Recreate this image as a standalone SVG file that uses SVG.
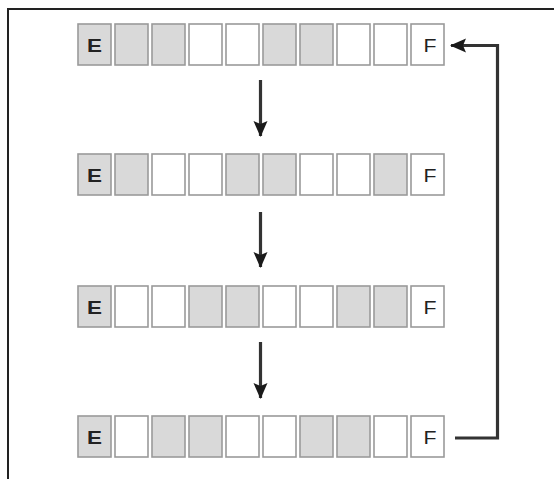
<svg xmlns="http://www.w3.org/2000/svg" width="554" height="479" viewBox="0 0 554 479">
<style>
.c{stroke:#9a9a9a;stroke-width:1.6}
.g{fill:#d9d9d9}
.w{fill:#ffffff}
.t{font-family:"Liberation Sans",Arial,sans-serif;font-size:18px;fill:#222;text-anchor:middle}
.b{font-weight:bold}
.ln{fill:none;stroke:#333;stroke-width:3.2}
</style>
<defs>
<marker id="ah" markerWidth="16" markerHeight="16" viewBox="0 0 16 16" refX="15" refY="8" orient="auto" markerUnits="userSpaceOnUse">
<path d="M0,1 L16,8 L0,15 L3,8 Z" fill="#1a1a1a"/>
</marker>
</defs>
<rect width="554" height="479" fill="#fff"/>
<path d="M8,479 V9 H554" fill="none" stroke="#222" stroke-width="2"/>
<g id="row1">
<rect class="c g" x="78" y="24" width="33" height="41"/>
<rect class="c g" x="115" y="24" width="33" height="41"/>
<rect class="c g" x="152" y="24" width="33" height="41"/>
<rect class="c w" x="189" y="24" width="33" height="41"/>
<rect class="c w" x="226" y="24" width="33" height="41"/>
<rect class="c g" x="263" y="24" width="33" height="41"/>
<rect class="c g" x="300" y="24" width="33" height="41"/>
<rect class="c w" x="337" y="24" width="33" height="41"/>
<rect class="c w" x="374" y="24" width="33" height="41"/>
<rect class="c w" x="411" y="24" width="33" height="41"/>
<text class="t b" x="94.5" y="52" textLength="15" lengthAdjust="spacingAndGlyphs">E</text>
<text class="t" x="430" y="52" textLength="13" lengthAdjust="spacingAndGlyphs">F</text>
</g>
<g id="row2">
<rect class="c g" x="78" y="154" width="33" height="41"/>
<rect class="c g" x="115" y="154" width="33" height="41"/>
<rect class="c w" x="152" y="154" width="33" height="41"/>
<rect class="c w" x="189" y="154" width="33" height="41"/>
<rect class="c g" x="226" y="154" width="33" height="41"/>
<rect class="c g" x="263" y="154" width="33" height="41"/>
<rect class="c w" x="300" y="154" width="33" height="41"/>
<rect class="c w" x="337" y="154" width="33" height="41"/>
<rect class="c g" x="374" y="154" width="33" height="41"/>
<rect class="c w" x="411" y="154" width="33" height="41"/>
<text class="t b" x="94.5" y="182" textLength="15" lengthAdjust="spacingAndGlyphs">E</text>
<text class="t" x="430" y="182" textLength="13" lengthAdjust="spacingAndGlyphs">F</text>
</g>
<g id="row3">
<rect class="c g" x="78" y="286" width="33" height="41"/>
<rect class="c w" x="115" y="286" width="33" height="41"/>
<rect class="c w" x="152" y="286" width="33" height="41"/>
<rect class="c g" x="189" y="286" width="33" height="41"/>
<rect class="c g" x="226" y="286" width="33" height="41"/>
<rect class="c w" x="263" y="286" width="33" height="41"/>
<rect class="c w" x="300" y="286" width="33" height="41"/>
<rect class="c g" x="337" y="286" width="33" height="41"/>
<rect class="c g" x="374" y="286" width="33" height="41"/>
<rect class="c w" x="411" y="286" width="33" height="41"/>
<text class="t b" x="94.5" y="314" textLength="15" lengthAdjust="spacingAndGlyphs">E</text>
<text class="t" x="430" y="314" textLength="13" lengthAdjust="spacingAndGlyphs">F</text>
</g>
<g id="row4">
<rect class="c g" x="78" y="416" width="33" height="41"/>
<rect class="c w" x="115" y="416" width="33" height="41"/>
<rect class="c g" x="152" y="416" width="33" height="41"/>
<rect class="c g" x="189" y="416" width="33" height="41"/>
<rect class="c w" x="226" y="416" width="33" height="41"/>
<rect class="c w" x="263" y="416" width="33" height="41"/>
<rect class="c g" x="300" y="416" width="33" height="41"/>
<rect class="c g" x="337" y="416" width="33" height="41"/>
<rect class="c w" x="374" y="416" width="33" height="41"/>
<rect class="c w" x="411" y="416" width="33" height="41"/>
<text class="t b" x="94.5" y="444" textLength="15" lengthAdjust="spacingAndGlyphs">E</text>
<text class="t" x="430" y="444" textLength="13" lengthAdjust="spacingAndGlyphs">F</text>
</g>
<g id="connectors">
<path class="ln" d="M260.5,80 V136" marker-end="url(#ah)"/>
<path class="ln" d="M260.5,212 V267" marker-end="url(#ah)"/>
<path class="ln" d="M260.5,342 V398" marker-end="url(#ah)"/>
<path class="ln" d="M455,438 H497.5 V45.5 H451" marker-end="url(#ah)"/>
</g>
</svg>
